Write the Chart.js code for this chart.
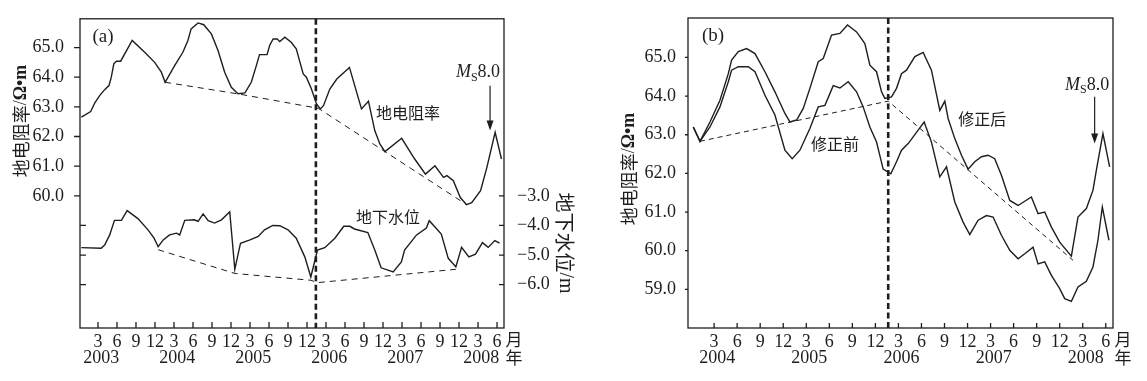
<!DOCTYPE html>
<html>
<head>
<meta charset="utf-8">
<script src="https://cdn.jsdelivr.net/npm/chart.js@4/dist/chart.umd.min.js"></script>
<style>
  html, body { margin: 0; padding: 0; background: #fff; }
  #wrap { position: relative; width: 1147px; height: 381px; }
  canvas { position: absolute; top: 0; }
  #chartA { left: 0; }
  #chartB { left: 580px; }
</style>
</head>
<body>
<div id="wrap">
  <canvas id="chartA" width="580" height="381"></canvas>
  <canvas id="chartB" width="567" height="381"></canvas>
</div>
<script>
// ---- panel (a): month index, Jan 2003 = 1 ----
const resMonthA = [0.37,1.85,2.48,3.26,4.05,4.74,5.1,5.5,5.9,6.58,8.4,10.37,11.95,13.0,13.6,15.1,16.4,17.2,17.7,18.8,19.7,20.9,21.95,23.0,24.05,25.1,26.2,27.2,28.0,28.5,29.7,30.1,30.65,31.3,31.7,32.5,33.5,34.3,35.4,35.9,36.7,37.5,38.1,38.6,39.6,40.7,42.7,44.6,45.7,46.7,47.5,48.3,50.95,53.0,54.7,56.2,57.55,58.1,59.1,60.2,61.2,62.0,63.4,64.4,65.7,66.7];
const resValA = [62.65,62.84,63.13,63.38,63.58,63.72,64.0,64.45,64.54,64.54,65.24,64.84,64.5,64.17,63.83,64.39,64.84,65.24,65.63,65.83,65.77,65.46,64.9,64.17,63.66,63.44,63.47,63.83,64.39,64.76,64.76,65.07,65.29,65.29,65.2,65.35,65.18,64.96,64.11,64.0,63.6,63.1,62.93,63.04,63.6,63.94,64.33,62.93,63.19,62.2,61.75,61.49,61.94,61.24,60.73,61.01,60.62,60.68,60.51,59.94,59.7,59.77,60.17,60.96,62.14,61.24];
const waterMonthA = [0.37,3.5,4.05,4.85,5.6,6.7,7.6,9.3,10.9,11.85,12.5,13.3,14.3,15.4,15.9,16.7,18.2,18.8,19.6,20.4,21.4,22.5,23.8,24.6,25.5,27.0,28.3,29.3,30.6,31.7,33.0,34.3,35.65,36.6,37.65,38.8,40.4,41.8,42.75,43.5,45.6,46.7,47.7,49.6,50.9,51.4,53.3,54.85,55.3,57.2,58.3,59.5,60.4,61.55,62.6,63.7,64.6,65.65,66.4];
const waterValA = [-4.75,-4.77,-4.66,-4.32,-3.83,-3.83,-3.5,-3.77,-4.15,-4.43,-4.72,-4.49,-4.32,-4.26,-4.32,-3.83,-3.81,-3.86,-3.61,-3.84,-3.92,-3.81,-3.54,-5.48,-4.6,-4.49,-4.37,-4.15,-4.0,-4.01,-4.15,-4.43,-5.06,-5.74,-4.83,-4.75,-4.43,-4.03,-4.03,-4.12,-4.24,-4.83,-5.43,-5.57,-5.23,-4.83,-4.32,-4.09,-3.84,-4.29,-5.11,-5.4,-4.74,-5.06,-4.97,-4.58,-4.74,-4.51,-4.6];
const resTrendMonthA = [13.6,25.3,37.8,61.2];
const resTrendValA = [63.83,63.43,62.95,59.7];
const waterTrendMonthA = [12.5,24.6,36.6,37.65,59.5];
const waterTrendValA = [-4.82,-5.62,-5.85,-5.93,-5.48];
const monthTicksA = [3,6,9,12,15,18,21,24,27,30,33,36,39,42,45,48,51,54,57,60,63,66];
const yearsA = [2003,2004,2005,2006,2007,2008];
const resTicksA = [57,58,59,60,61,62,63,64,65];
const waterTicksA = [-3,-4,-5,-6];
const eventMonthA = 37.4;

// ---- panel (b): month index, Jan 2004 = 1 ----
const afterMonthB = [0.29,1.16,2.46,3.76,4.85,5.28,6.15,7.23,8.32,9.62,10.92,12.22,12.87,13.74,14.61,15.47,16.56,17.21,18.29,19.38,20.37,21.55,22.63,23.28,24.15,24.8,25.23,26.1,26.75,27.4,28.05,29.14,30.22,31.3,32.39,33.04,33.47,34.34,35.21,36.07,36.94,37.81,38.68,39.54,40.41,41.5,42.58,44.31,45.18,46.05,46.92,48.0,49.52,50.38,51.47,52.33,52.77,53.63,54.5];
const afterValB = [63.20,62.83,63.33,63.89,64.58,64.93,65.15,65.23,65.10,64.63,64.11,63.55,63.33,63.38,63.68,64.20,64.89,64.97,65.58,65.62,65.84,65.66,65.36,64.80,64.63,64.11,63.94,63.98,64.20,64.58,64.67,65.02,65.13,64.67,63.63,63.87,63.42,62.90,62.47,62.11,62.30,62.43,62.47,62.38,61.95,61.30,61.17,61.39,60.96,61.0,60.61,60.22,59.86,60.87,61.09,61.56,62.08,63.03,62.17];
const beforeMonthB = [0.29,1.16,2.46,3.76,4.85,5.28,6.15,7.45,8.32,9.62,10.92,12.22,13.17,14.17,15.47,16.56,17.43,18.51,19.38,20.46,21.55,22.41,23.28,24.15,25.01,26.01,26.75,27.4,28.27,29.57,30.35,31.3,32.39,33.26,34.34,35.42,36.29,37.38,38.46,39.33,40.41,41.5,42.58,43.45,44.53,45.18,46.05,46.92,48.0,48.65,49.52,50.38,51.47,52.33,52.98,53.55,54.41];
const beforeValB = [63.20,62.83,63.20,63.72,64.37,64.67,64.76,64.76,64.63,64.02,63.51,62.60,62.38,62.60,63.16,63.72,63.76,64.27,64.21,64.37,64.11,63.72,63.20,62.81,62.11,61.99,62.30,62.60,62.77,63.12,63.33,62.81,61.91,62.17,61.26,60.74,60.42,60.79,60.91,60.87,60.40,60.01,59.79,59.92,60.09,59.66,59.71,59.36,59.02,58.76,58.69,59.06,59.21,59.58,60.27,61.13,60.27];
const trendMonthB = [1.16,25.67,49.74];
const trendValB = [62.83,63.87,59.75];
const monthTicksB = [3,6,9,12,15,18,21,24,27,30,33,36,39,42,45,48,51,54];
const yearsB = [2004,2005,2006,2007,2008];
const resTicksB = [59,60,61,62,63,64,65];
const eventMonthB = 25.67;

// ---- look ----
const INK = '#1e1e1e';
const NUM_FONT = '"Liberation Serif", "DejaVu Serif", serif';
const CJK_FONT = '"Noto Sans CJK SC", "Noto Sans", sans-serif';

const toPoints = (xs, ys) => xs.map((x, i) => ({x: x, y: ys[i]}));
const monthOf = v => ((Math.round(v) - 1) % 12) + 1;
const fixed1 = v => v.toFixed(1);
const minus1 = v => (v < 0 ? '\u2212' : '') + Math.abs(v).toFixed(1);

function lineSet(xs, ys, axis, dash) {
  return {
    data: toPoints(xs, ys), yAxisID: axis,
    borderColor: INK, borderWidth: dash ? 1 : 1.4, borderDash: dash || [],
    pointRadius: 0, tension: 0, fill: false
  };
}

function monthAxis(min, max, ticks) {
  return {
    type: 'linear', position: 'bottom', min: min, max: max,
    afterBuildTicks: s => { s.ticks = ticks.map(v => ({value: v})); },
    afterFit: s => { s.height = 53; },
    grid: {display: false}, border: {display: false},
    ticks: {autoSkip: false, maxRotation: 0, padding: -5, color: INK,
      font: {family: NUM_FONT, size: 18}, callback: v => monthOf(v)}
  };
}

function valueAxis(position, min, max, ticks, width, pad, fmt) {
  return {
    type: 'linear', position: position, min: min, max: max,
    afterBuildTicks: s => { s.ticks = ticks.map(v => ({value: v})); },
    afterFit: s => { s.width = width; },
    grid: {display: false}, border: {display: false},
    ticks: {padding: pad, color: INK, font: {family: NUM_FONT, size: 18}, callback: fmt}
  };
}

// ---- drawing helpers for the decorations ----
function drawEventLine(ctx, a, px) {
  ctx.save();
  ctx.lineWidth = 2.6;
  ctx.setLineDash([6, 3.5]);
  ctx.beginPath(); ctx.moveTo(px, a.top); ctx.lineTo(px, a.bottom); ctx.stroke();
  ctx.restore();
}

function drawYears(ctx, xs, years, firstYear, a, shift) {
  ctx.font = `18px ${NUM_FONT}`;
  ctx.textAlign = 'center'; ctx.textBaseline = 'middle';
  years.forEach(yr => ctx.fillText(String(yr), xs.getPixelForValue((yr - firstYear) * 12 + shift), 358));
  ctx.font = `17px ${CJK_FONT}`;
  ctx.fillText('月', a.right + 10, 340);
  ctx.fillText('年', a.right + 10, 358);
}

function drawRotated(ctx, cx, cy, angle, parts) {
  ctx.save();
  ctx.translate(cx, cy); ctx.rotate(angle);
  ctx.textAlign = 'left'; ctx.textBaseline = 'middle';
  let total = 0;
  parts.forEach(p => { ctx.font = p[1]; total += ctx.measureText(p[0]).width; });
  let x = -total / 2;
  parts.forEach(p => { ctx.font = p[1]; ctx.fillText(p[0], x, 0); x += ctx.measureText(p[0]).width; });
  ctx.restore();
}

function drawArrow(ctx, x, yTop, yTip) {
  ctx.save();
  ctx.lineWidth = 1.2;
  ctx.beginPath(); ctx.moveTo(x, yTop); ctx.lineTo(x, yTip - 8); ctx.stroke();
  ctx.beginPath(); ctx.moveTo(x - 3.5, yTip - 10); ctx.lineTo(x + 3.5, yTip - 10); ctx.lineTo(x, yTip); ctx.closePath(); ctx.fill();
  ctx.restore();
}

function drawMs(ctx, cx, cy) {
  const parts = [['M', `italic 18px ${NUM_FONT}`, 0], ['S', `12px ${NUM_FONT}`, 5], ['8.0', `18px ${NUM_FONT}`, 0]];
  ctx.textAlign = 'left'; ctx.textBaseline = 'middle';
  let total = 0;
  parts.forEach(p => { ctx.font = p[1]; total += ctx.measureText(p[0]).width; });
  let x = cx - total / 2;
  parts.forEach(p => { ctx.font = p[1]; ctx.fillText(p[0], x, cy + p[2]); x += ctx.measureText(p[0]).width; });
}

function drawLabel(ctx, text, x, y) {
  ctx.font = `16px ${CJK_FONT}`;
  ctx.textAlign = 'center'; ctx.textBaseline = 'middle';
  ctx.fillText(text, x, y);
}

const titleRes = [['地电阻率', `18px ${CJK_FONT}`], ['/', `18px ${NUM_FONT}`], ['Ω•m', `bold 18px ${NUM_FONT}`]];

// ---- panel (a) decorations ----
const decorA = {
  id: 'decorA',
  afterDraw(chart) {
    const {ctx, chartArea: a} = chart;
    const x = chart.scales.x, y = chart.scales.y, w = chart.scales.y2;
    ctx.save();
    ctx.strokeStyle = INK; ctx.fillStyle = INK; ctx.lineWidth = 1.3;
    ctx.strokeRect(a.left, a.top, a.right - a.left, a.bottom - a.top);
    ctx.beginPath();
    monthTicksA.forEach(m => { const p = x.getPixelForValue(m); ctx.moveTo(p, a.bottom); ctx.lineTo(p, a.bottom - 6); });
    resTicksA.forEach(v => { const p = y.getPixelForValue(v); ctx.moveTo(a.left, p); ctx.lineTo(v >= 60 ? a.left - 6 : a.left + 6, p); });
    waterTicksA.forEach(v => { const p = w.getPixelForValue(v); ctx.moveTo(a.right, p); ctx.lineTo(a.right - 5, p); });
    ctx.stroke();
    drawEventLine(ctx, a, x.getPixelForValue(eventMonthA));
    drawYears(ctx, x, yearsA, 2003, a, 3.5);
    drawRotated(ctx, 21, 121, -Math.PI / 2, titleRes);
    drawRotated(ctx, 565, 243, Math.PI / 2, [['地下水位', `20px ${CJK_FONT}`], ['/m', `20px ${NUM_FONT}`]]);
    ctx.font = `19px ${NUM_FONT}`; ctx.textAlign = 'center'; ctx.textBaseline = 'middle';
    ctx.fillText('(a)', a.left + 23, a.top + 18);
    drawLabel(ctx, '地电阻率', x.getPixelForValue(51.95), y.getPixelForValue(62.8));
    drawLabel(ctx, '地下水位', x.getPixelForValue(48.8), w.getPixelForValue(-3.7));
    drawArrow(ctx, x.getPixelForValue(64.9), y.getPixelForValue(63.71), y.getPixelForValue(62.2));
    drawMs(ctx, x.getPixelForValue(63.0), y.getPixelForValue(64.15));
    ctx.restore();
  }
};

// ---- panel (b) decorations ----
const decorB = {
  id: 'decorB',
  afterDraw(chart) {
    const {ctx, chartArea: a} = chart;
    const x = chart.scales.x, y = chart.scales.y;
    ctx.save();
    ctx.strokeStyle = INK; ctx.fillStyle = INK; ctx.lineWidth = 1.3;
    ctx.strokeRect(a.left, a.top, a.right - a.left, a.bottom - a.top);
    ctx.beginPath();
    monthTicksB.forEach(m => { const p = x.getPixelForValue(m); ctx.moveTo(p, a.bottom); ctx.lineTo(p, a.bottom - 5); });
    resTicksB.forEach(v => { const p = y.getPixelForValue(v); ctx.moveTo(a.left, p); ctx.lineTo(a.left - 3, p); });
    ctx.stroke();
    drawEventLine(ctx, a, x.getPixelForValue(eventMonthB));
    drawYears(ctx, x, yearsB, 2004, a, 3.4);
    drawRotated(ctx, 49, 169, -Math.PI / 2, titleRes);
    ctx.font = `19px ${NUM_FONT}`; ctx.textAlign = 'center'; ctx.textBaseline = 'middle';
    ctx.fillText('(b)', a.left + 25, a.top + 18);
    drawLabel(ctx, '修正前', x.getPixelForValue(18.73), y.getPixelForValue(62.75));
    drawLabel(ctx, '修正后', x.getPixelForValue(37.92), y.getPixelForValue(63.4));
    drawArrow(ctx, x.getPixelForValue(52.55), y.getPixelForValue(63.98), y.getPixelForValue(62.77));
    drawMs(ctx, x.getPixelForValue(51.58), y.getPixelForValue(64.28));
    ctx.restore();
  }
};

const common = {
  responsive: false, animation: false, devicePixelRatio: 1,
  plugins: {legend: {display: false}, tooltip: {enabled: false}}
};

new Chart(document.getElementById('chartA'), {
  type: 'line',
  data: {datasets: [
    lineSet(resMonthA, resValA, 'y'),
    lineSet(waterMonthA, waterValA, 'y2'),
    lineSet(resTrendMonthA, resTrendValA, 'y', [6, 5]),
    lineSet(waterTrendMonthA, waterTrendValA, 'y2', [6, 5])
  ]},
  options: Object.assign({}, common, {
    layout: {padding: {top: 18, left: 0, right: 0, bottom: 0}},
    scales: {
      x: monthAxis(0.16, 67.1, monthTicksA),
      y: valueAxis('left', 55.54, 65.97, resTicksA, 80, 8, v => (v >= 60 ? fixed1(v) : '')),
      y2: valueAxis('right', -7.46, 2.97, waterTicksA, 76, 5, minus1)
    }
  }),
  plugins: [decorA]
});

new Chart(document.getElementById('chartB'), {
  type: 'line',
  data: {datasets: [
    lineSet(afterMonthB, afterValB, 'y'),
    lineSet(beforeMonthB, beforeValB, 'y'),
    lineSet(trendMonthB, trendValB, 'y', [5, 4])
  ]},
  options: Object.assign({}, common, {
    layout: {padding: {top: 18, left: 0, right: 34, bottom: 0}},
    scales: {
      x: monthAxis(-0.4, 54.94, monthTicksB),
      y: valueAxis('left', 58.0, 66.02, resTicksB, 108, 4, fixed1)
    }
  }),
  plugins: [decorB]
});
</script>
</body>
</html>
